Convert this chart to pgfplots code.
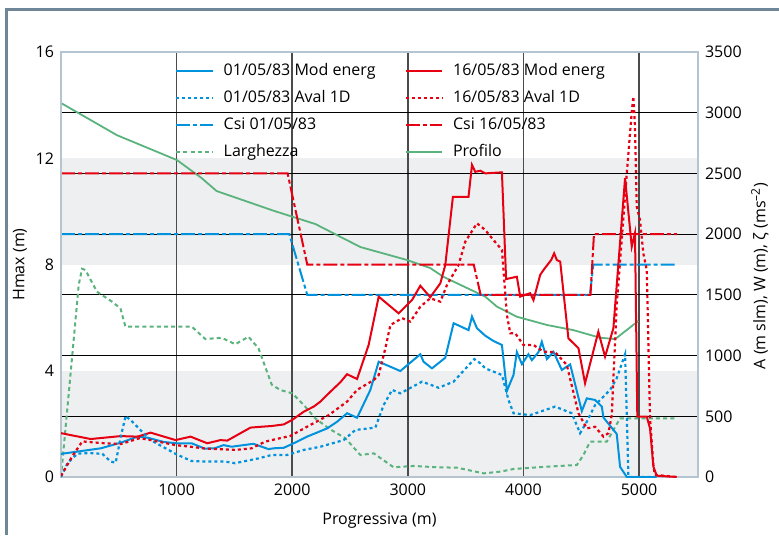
\documentclass[border=0pt]{standalone}
\usepackage{fontspec}
\setmainfont{Open Sans}
\usepackage{pgfplots}
\usepackage{pgfplotstable}
\pgfplotsset{compat=1.18}
\definecolor{cblue}{RGB}{0,146,221}
\definecolor{cred}{RGB}{230,0,18}
\definecolor{cgreen}{RGB}{90,178,125}
\definecolor{band}{RGB}{238,239,241}
\definecolor{axline}{RGB}{180,196,208}
\definecolor{framec}{RGB}{110,134,152}
\definecolor{vgrid}{RGB}{75,75,75}

\pgfplotstableread{
x h
0 0.87
344 1.08
516 1.29
663 1.52
749 1.48
887 1.32
1000 1.27
1130 1.27
1242 1.07
1329 1.08
1406 1.20
1475 1.14
1665 1.25
1795 1.05
1838 1.08
1927 1.10
2013 1.27
2129 1.52
2302 1.83
2388 2.08
2475 2.40
2561 2.23
2676 3.28
2748 4.34
2935 3.99
3108 4.62
3136 4.34
3209 4.09
3324 4.49
3396 5.79
3525 5.53
3555 6.04
3598 5.60
3670 5.32
3741 5.12
3814 4.97
3857 3.24
3914 3.84
3943 4.70
3987 4.25
4043 4.62
4073 4.40
4130 4.70
4159 5.09
4203 4.44
4260 4.71
4332 4.03
4404 4.24
4505 2.48
4548 2.96
4620 2.90
4678 2.65
4692 2.24
4807 1.62
4836 0.38
4894 0
5150 0
}\modA

\pgfplotstableread{
x h
0 1.65
257 1.43
516 1.54
661 1.52
775 1.67
991 1.39
1121 1.52
1265 1.27
1380 1.39
1438 1.37
1639 1.86
1726 1.89
1823 1.92
1927 1.98
2000 2.15
2100 2.46
2186 2.65
2244 2.84
2330 3.21
2417 3.57
2474 3.87
2561 3.69
2661 4.97
2748 6.79
2921 6.16
3036 6.66
3108 7.20
3194 6.77
3281 7.29
3324 7.98
3390 10.55
3525 10.55
3555 11.75
3583 11.49
3627 11.53
3670 11.43
3814 11.47
3850 7.45
3943 7.54
3972 6.79
4058 6.92
4087 6.66
4145 7.61
4173 7.79
4240 8.17
4266 8.42
4289 8.17
4318 8.11
4389 5.22
4476 4.85
4533 3.53
4648 5.47
4706 4.53
4778 5.60
4879 11.25
4937 8.67
4965 9.18
4985 2.27
5067 2.27
5095 1.83
5124 0.39
5153 0.05
5326 0
}\modB

\pgfplotstableread{
x h
0 0
56 0.52
142 0.88
257 0.90
358 0.87
430 0.58
473 0.54
516 1.49
559 2.30
617 2.08
700 1.71
775 1.39
1000 0.85
1130 0.60
1265 0.58
1421 0.58
1505 0.52
1708 0.70
1823 0.83
1956 0.83
2100 1.02
2244 1.14
2445 1.39
2546 1.77
2719 1.86
2791 2.71
2864 3.28
2935 3.15
3123 3.59
3266 3.36
3396 3.59
3575 4.44
3627 4.28
3670 4.09
3814 3.84
3871 2.90
3914 2.40
4058 2.33
4274 2.65
4418 2.40
4490 1.65
4548 2.08
4620 2.71
4750 3.28
4807 3.72
4879 4.62
4894 2.33
4908 0
5150 0
}\avalA

\pgfplotstableread{
x h
0 0.04
95 0.76
184 1.34
343 1.28
516 1.24
680 1.46
775 1.39
991 1.20
1121 1.14
1250 1.07
1510 1.02
1648 1.08
1766 1.33
1823 1.39
1985 1.55
2157 1.96
2316 2.33
2475 2.84
2561 3.28
2705 3.65
2748 3.84
2806 4.85
2849 5.72
2950 5.98
3022 5.85
3108 6.41
3194 6.73
3281 6.60
3339 7.23
3439 7.98
3497 8.86
3598 9.55
3670 9.30
3741 8.92
3814 8.55
3857 6.10
3886 5.41
3929 5.41
4000 4.97
4087 4.97
4173 4.72
4274 4.70
4375 4.22
4476 2.40
4548 1.83
4620 1.89
4692 1.52
4735 1.65
4764 2.33
4807 6.48
4894 11.43
4937 13.75
4951 14.32
4965 13.19
4980 10.18
5008 9.68
5037 8.42
5067 7.79
5095 2.21
5124 0.45
5136 0.08
5326 0
}\avalB

\pgfplotstableread{
x v
0 2000
1975 2000
2130 1500
4575 1500
4605 1750
5330 1750
}\csiA

\pgfplotstableread{
x v
0 2500
1960 2500
2130 1750
3570 1750
3630 1500
4580 1500
4610 2000
5330 2000
}\csiB

\pgfplotstableread{
x v
0 0
95 977
153 1581
182 1715
211 1705
311 1526
441 1444
514 1389
557 1238
1132 1238
1248 1136
1391 1147
1507 1093
1622 1155
1708 1060
1823 760
1898 716
2000 689
2100 593
2201 482
2316 400
2460 319
2590 181
2705 195
2877 80
3050 91
3252 80
3425 77
3655 30
3799 44
3914 66
4203 85
4462 99
4519 181
4577 291
4721 291
4836 483
5326 483
}\larg

\pgfplotstableread{
x v
0 3080
484 2815
1003 2610
1216 2462
1346 2355
1838 2193
2201 2083
2589 1894
2993 1787
3194 1721
3307 1649
3670 1485
3771 1403
3943 1320
4203 1252
4430 1210
4663 1147
4793 1136
4994 1285
}\prof

\tikzset{
  solidl/.style={line width=1pt},
  dotl/.style={line width=1.1pt, dash pattern=on 1.5pt off 1.5pt},
  csil/.style={line width=1pt, dash pattern=on 7pt off 1.5pt on 2pt off 1.5pt},
  largl/.style={line width=1pt, dash pattern=on 2pt off 1.6pt},
}

\begin{document}
\begin{tikzpicture}
\draw[framec, line width=1.7pt] (3.35pt,0) -- (3.35pt,263.6pt);
\draw[framec, line width=1.9pt] (2.5pt,262.75pt) -- (389.5pt,262.75pt);

% right-scale axis: bands, grid, Csi, Larghezza, Profilo
\begin{axis}[
  at={(30.5pt,29pt)}, anchor=south west,
  width=318.5pt, height=212.5pt, scale only axis,
  set layers,
  xmin=0, xmax=5510, ymin=0, ymax=3500,
  axis line style={axline, line width=0.75pt},
  xtick={1000,2000,3000,4000,5000}, xticklabels={},
  xmajorgrids,
  ytick={500,1000,1500,2000,2500,3000},
  extra y ticks={0,3500}, extra y tick style={grid=none},
  ymajorgrids,
  major tick length=0pt,
  x grid style={vgrid, line width=0.75pt},
  y grid style={black, line width=0.5pt},
  yticklabel pos=right,
  ticklabel style={font=\fontsize{8}{9.6}\selectfont},
  /pgf/number format/assume math mode=true,
  /pgf/number format/1000 sep={},
  ylabel={A (m slm), W (m), ζ (ms\textsuperscript{–2})},
  ylabel style={at={(axis description cs:1.097,0.473)}, anchor=center, font=\fontsize{8}{9.6}\selectfont},
]
\begin{pgfonlayer}{axis background}
\fill[band] (axis cs:0,0) rectangle (axis cs:5510,875);
\fill[band] (axis cs:0,1750) rectangle (axis cs:5510,2625);
\end{pgfonlayer}
\addplot[cgreen, largl] table[x=x,y=v] {\larg};
\addplot[cgreen, line width=0.9pt] table[x=x,y=v] {\prof};
\addplot[cblue, csil] table[x=x,y=v] {\csiA};
\addplot[cred, csil] table[x=x,y=v] {\csiB};
\end{axis}

% left-scale axis: Hmax series, legend
\begin{axis}[
  at={(30.5pt,29pt)}, anchor=south west,
  width=318.5pt, height=212.5pt, scale only axis,
  xmin=0, xmax=5510, ymin=0, ymax=16,
  axis line style={axline, line width=0.75pt},
  xtick={1000,2000,3000,4000,5000},
  ytick={0,4,8,12,16},
  major tick length=0pt,
  ticklabel style={font=\fontsize{8}{9.6}\selectfont},
  /pgf/number format/assume math mode=true,
  /pgf/number format/1000 sep={},
  xlabel={Progressiva (m)},
  ylabel={Hmax (m)},
  xlabel style={at={(axis description cs:0.5,-0.1035)}, anchor=center, font=\fontsize{8}{9.6}\selectfont},
  ylabel style={at={(axis description cs:-0.0644,0.5)}, anchor=center, font=\fontsize{8}{9.6}\selectfont},
  legend columns=2,
  legend cell align=left,
  legend image code/.code={\draw[#1] (0cm,0cm) -- (0.64cm,0cm);},
  legend style={draw=none, fill=none, at={(axis description cs:0.5196,0.8596)}, anchor=center,
    font=\fontsize{8}{9.6}\selectfont,
    /tikz/every odd column/.append style={column sep=3pt},
    /tikz/every even column/.append style={column sep=12.5pt},
    row sep=2pt},
]
\addplot[cblue, solidl] table[x=x,y=h] {\modA};
\addlegendentry{01/05/83 Mod energ}
\addplot[cred, solidl] table[x=x,y=h] {\modB};
\addlegendentry{16/05/83 Mod energ}
\addplot[cblue, dotl] table[x=x,y=h] {\avalA};
\addlegendentry{01/05/83 Aval 1D}
\addplot[cred, dotl] table[x=x,y=h] {\avalB};
\addlegendentry{16/05/83 Aval 1D}
\addlegendimage{cblue, csil}
\addlegendentry{Csi 01/05/83}
\addlegendimage{cred, csil}
\addlegendentry{Csi 16/05/83}
\addlegendimage{cgreen, largl}
\addlegendentry{Larghezza}
\addlegendimage{cgreen, line width=0.9pt}
\addlegendentry{Profilo}
\end{axis}
\pgfresetboundingbox
\useasboundingbox (0,0) rectangle (389.5pt,267.5pt);
\end{tikzpicture}
\end{document}
